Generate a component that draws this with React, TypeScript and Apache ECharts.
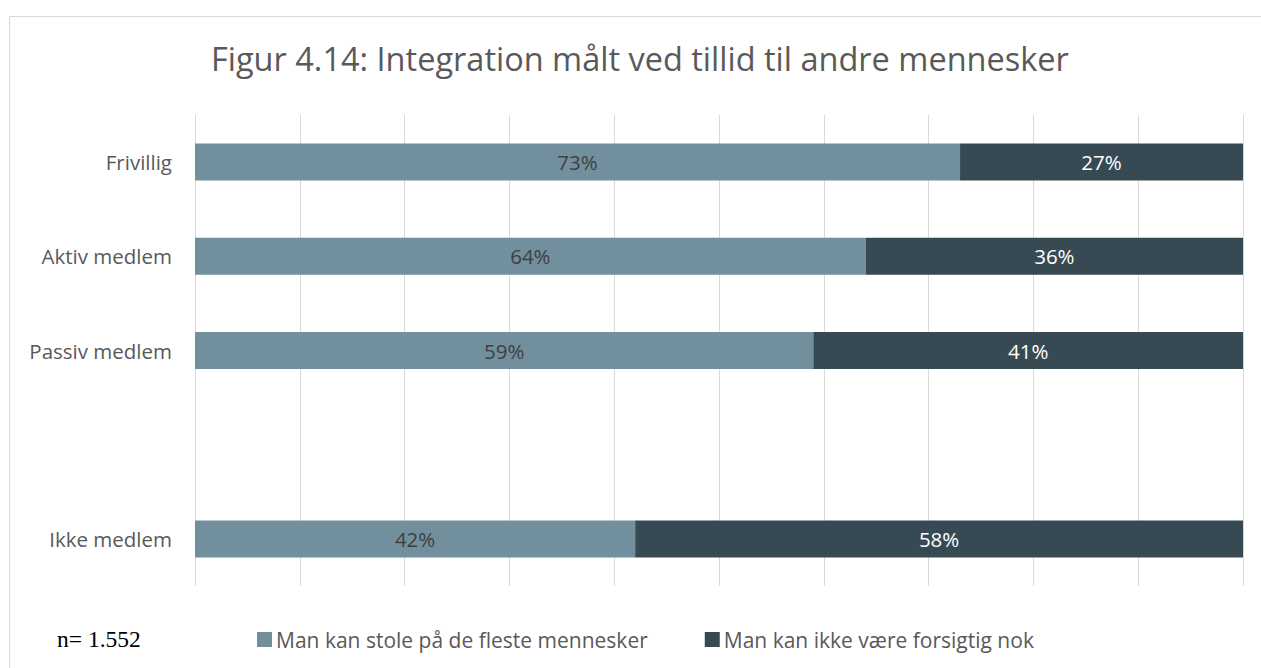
import React, { useEffect, useRef } from "react";
import * as echarts from "echarts";

const categories = ["Frivillig", "Aktiv medlem", "Passiv medlem", "", "Ikke medlem"];
const seriesNames = ["Man kan stole på de fleste mennesker", "Man kan ikke være forsigtig nok"];
const trustValues: (number | null)[] = [73, 64, 59, null, 42];
const cautiousValues: (number | null)[] = [27, 36, 41, null, 58];
const titleText = "Figur 4.14: Integration målt ved tillid til andre mennesker";
const noteText = "n= 1.552";

const FONT = "Open Sans";

export default function App() {
  const ref = useRef<HTMLDivElement>(null);
  useEffect(() => {
    document.body.style.margin = "0";
    const chart = echarts.init(ref.current!, null, { renderer: "svg" });
    chart.setOption({
      animation: false,
      backgroundColor: "#ffffff",
      title: {
        text: titleText,
        left: 206,
        top: 37,
        textStyle: { fontFamily: FONT, fontSize: 32.5, fontWeight: "normal", color: "#595959" },
      },
      legend: {
        left: 252,
        top: 624,
        itemWidth: 15,
        itemHeight: 15,
        itemGap: 57,
        icon: "rect",
        textStyle: { fontFamily: FONT, fontSize: 21, color: "#595959", padding: [0, 0, 0, -1] },
        data: seriesNames,
      },
      grid: { left: 195, right: 18, top: 115, bottom: 82, containLabel: false },
      xAxis: {
        type: "value",
        min: 0,
        max: 100,
        interval: 10,
        axisLabel: { show: false },
        axisLine: { show: false },
        axisTick: { show: false },
        splitLine: { show: true, lineStyle: { color: "#d9d9d9", width: 1 } },
      },
      yAxis: {
        type: "category",
        data: categories,
        inverse: true,
        axisLine: { show: false },
        axisTick: { show: false },
        axisLabel: { margin: 23, fontFamily: FONT, fontSize: 20.5, color: "#595959" },
      },
      graphic: [
        {
          type: "rect",
          shape: { x: 9.5, y: 16.5, width: 1300, height: 700 },
          style: { fill: "none", stroke: "#d9d9d9", lineWidth: 1 },
          silent: true,
          z: -10,
        },
        {
          type: "text",
          left: 57,
          top: 627,
          style: { text: noteText, font: "23.5px 'Liberation Serif', 'Times New Roman', serif", fill: "#000000" },
        },
      ],
      series: [
        {
          name: seriesNames[0],
          type: "bar",
          stack: "total",
          barWidth: 37,
          data: trustValues,
          itemStyle: { color: "#728f9e" },
          label: {
            show: true,
            position: "inside",
            formatter: (p: any) => (p.value == null ? "" : p.value + "%"),
            fontFamily: FONT,
            fontSize: 20.5,
            color: "#404040",
          },
        },
        {
          name: seriesNames[1],
          type: "bar",
          stack: "total",
          barWidth: 37,
          data: cautiousValues,
          itemStyle: { color: "#374a54" },
          label: {
            show: true,
            position: "inside",
            formatter: (p: any) => (p.value == null ? "" : p.value + "%"),
            fontFamily: FONT,
            fontSize: 20.5,
            color: "#ffffff",
          },
        },
      ],
    });
    return () => chart.dispose();
  }, []);
  return <div ref={ref} style={{ position: "fixed", left: 0, top: 0, width: 1261, height: 668 }} />;
}
